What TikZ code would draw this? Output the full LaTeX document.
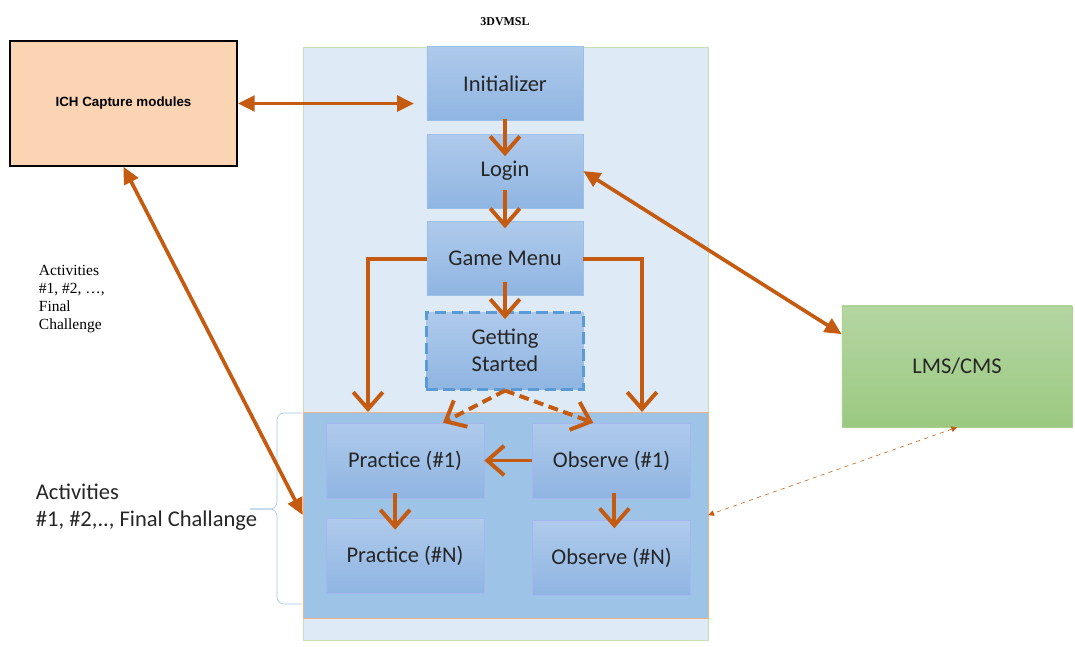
\documentclass[tikz,border=0pt]{standalone}
\usepackage{fontspec}
\setmainfont{Liberation Serif}
\newfontfamily\carlito{Carlito}
\newfontfamily\arialfont{Liberation Sans}
\usetikzlibrary{arrows.meta,positioning,calc}
\definecolor{orng}{HTML}{C55A11}
\definecolor{frameblue}{HTML}{DEEBF7}
\definecolor{framegreen}{HTML}{C5E0B4}
\definecolor{panelblue}{HTML}{9DC3E6}
\definecolor{panelline}{HTML}{F4B183}
\definecolor{boxtop}{HTML}{AFCAEB}
\definecolor{boxbot}{HTML}{8FB5E2}
\definecolor{boxline}{HTML}{9CBFE8}
\definecolor{dashline}{HTML}{5B9BD5}
\definecolor{lmstop}{HTML}{B4D6A2}
\definecolor{lmsbot}{HTML}{9BC981}
\definecolor{lmsline}{HTML}{A9D18E}
\definecolor{ichfill}{HTML}{FBD4B4}
\definecolor{txt}{HTML}{262626}
\tikzset{
block/.style = {draw=boxline, top color=boxtop, bottom color=boxbot, rectangle, inner sep=0pt, minimum width=3.9cm, minimum height=1.85cm, align=center, text=txt, font=\carlito\fontsize{16}{19}\selectfont},
optblock/.style = {block, draw=dashline, line width=2.1pt, dash pattern=on 8pt off 4pt, minimum width=3.925cm, minimum height=1.925cm},
actblock/.style = {block, draw=boxline!80!blue!70, minimum width=3.95cm, minimum height=1.875cm},
frame/.style = {draw=framegreen, fill=frameblue, rectangle, inner sep=0pt},
panel/.style = {draw=panelline, fill=panelblue, rectangle, inner sep=0pt, minimum width=10.125cm, minimum height=5.15cm},
ich/.style = {draw=black, line width=1pt, fill=ichfill, rectangle, minimum width=5.675cm, minimum height=3.125cm, font=\arialfont\bfseries\fontsize{9.5}{11}\selectfont},
lms/.style = {draw=lmsline, top color=lmstop, bottom color=lmsbot, rectangle, minimum width=5.75cm, minimum height=3.025cm, text=txt, font=\carlito\fontsize{16}{19}\selectfont},
flow/.style = {draw=orng, line width=2.8pt, -{Straight Barb[length=12pt,width=21pt]}},
dflow/.style = {flow, dash pattern=on 7pt off 4pt},
link/.style = {draw=orng, line width=2.6pt, {Triangle[length=12pt,width=11pt]}-{Triangle[length=12pt,width=11pt]}},
weblink/.style = {draw=orng, thin, dashed, {Triangle[length=4pt,width=4pt]}-{Triangle[length=4pt,width=4pt]}},
brace/.style = {draw=panelblue, thin, rounded corners=5pt}
}

\begin{document}
\begin{tikzpicture}[x=0.025cm, y=-0.025cm, node distance=2.1875cm]
  \useasboundingbox (0,0) rectangle (1075,646);
  % system frame and activity panel
  \node [frame, minimum width=10.125cm, minimum height=14.825cm] (sys) at (505.5,343.5) {};
  \node [font=\bfseries\fontsize{8.5}{10}\selectfont] (title) at (505,22) {3DVMSL};
  \node [panel] (acts) at (505.5,515) {};

  % main flow
  \node [block] (init) at (505,83.5) {Initializer};
  \node [block, below of=init] (login) {Login};
  \node [block, below of=login] (menu) {Game Menu};
  \node [optblock, below of=menu, node distance=2.3cm] (start) {Getting\\Started};

  % activities
  \node [actblock] (prac1) at (405,460.5) {Practice (\#1)};
  \node [actblock, right of=prac1, node distance=5.1625cm] (obs1) {Observe (\#1)};
  \node [actblock, below of=prac1, node distance=2.375cm] (pracN) {Practice (\#N)};
  \node [actblock, below of=obs1, node distance=2.4375cm] (obsN) {Observe (\#N)};

  % outside systems
  \node [ich] (ich) at (123.5,103.5) {ICH Capture modules};
  \node [lms] (lms) at (957,366.5) {LMS/CMS};

  % labels
  \draw [brace] (302,413) -- (277,413) -- (277,509) -- (250,509);
  \draw [brace] (250,509) -- (277,509) -- (277,604) -- (302,604);
  \node [anchor=west, align=left, text=txt, font=\carlito\fontsize{16}{19}\selectfont] (actlbl) at (31,507) {Activities\\\#1, \#2,.., Final Challange};
  \node [anchor=west, align=left, font=\fontsize{11}{13}\selectfont] (actnote) at (34,299) {Activities\\\#1, \#2, …,\\Final\\Challenge};

  \coordinate (pin) at (368,412);
  \coordinate (oin) at (642,412);

  \draw [flow] ([yshift=1.5pt]init.south) -- ([yshift=-16pt]login.north);
  \draw [flow] ([yshift=13pt]login.south) -- ([yshift=-5pt]menu.north);
  \draw [flow] ([yshift=10pt]menu.south) -- ([yshift=-6pt]start.north);
  \draw [flow] (menu.west) -| (pin);
  \draw [flow] (menu.east) -| (oin);
  \draw [dflow] (start.south) -- ([xshift=27pt]prac1.north);
  \draw [dflow] (start.south) -- ([xshift=-13pt]obs1.north);
  \draw [flow] (obs1) -- (prac1);
  \draw [flow] ([xshift=-7pt, yshift=3.5pt]prac1.south) -- ([xshift=-7pt, yshift=-8.5pt]pracN.north);
  \draw [flow] ([xshift=2pt, yshift=3.5pt]obs1.south) -- ([xshift=2pt, yshift=-5.7pt]obsN.north);

  \draw [link, shorten >=9pt] (ich.east) -- (ich.east -| init.west);
  \draw [link] (login.east) -- ([yshift=23pt]lms.west);
  \draw [link] (ich.south) -- (acts.west);
  \draw [weblink] (lms.south) -- (acts.east);
\end{tikzpicture}
\end{document}
